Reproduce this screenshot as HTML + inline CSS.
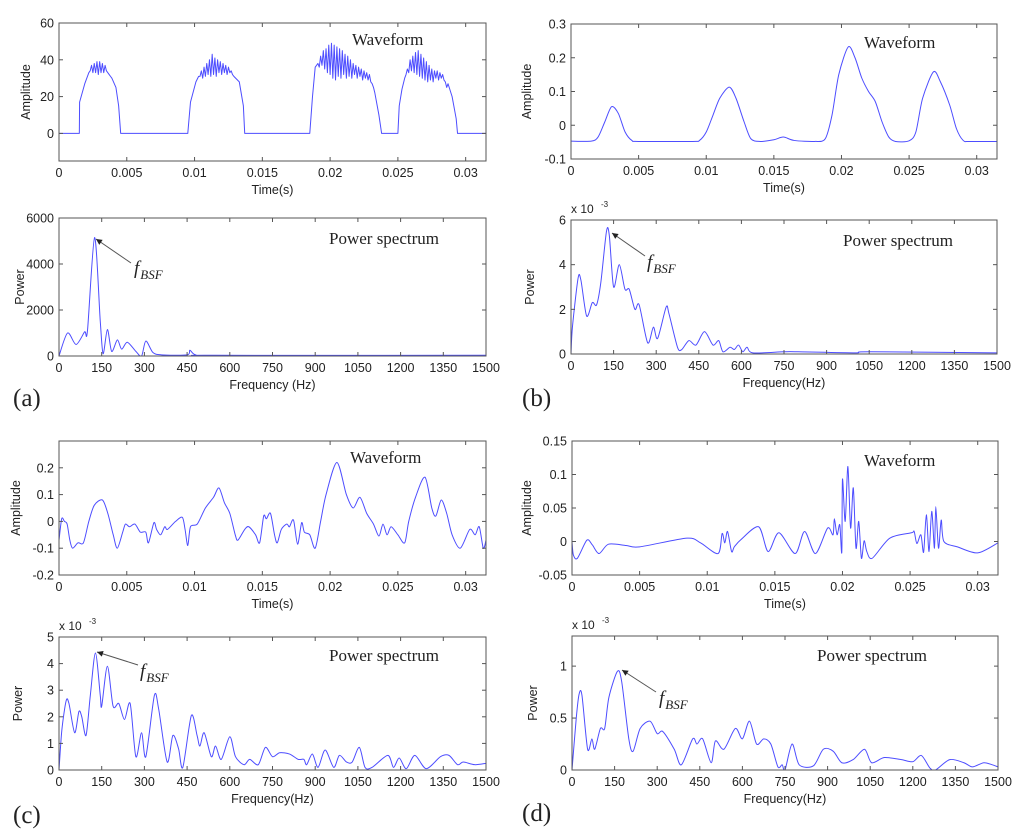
<!DOCTYPE html>
<html><head><meta charset="utf-8">
<style>
html,body{margin:0;padding:0;background:#fff;}
svg{display:block;}
text{font-family:"Liberation Sans",Arial,sans-serif;fill:#222;}
.serif{font-family:"Liberation Serif","Times New Roman",serif;}
</style></head>
<body>
<svg id="fig" width="1024" height="836" viewBox="0 0 1024 836" xmlns="http://www.w3.org/2000/svg"></svg>
<script>
// ---------- Panel (a) waveform ----------
const aWaveT = [0,0.0015,0.00152,0.0019,0.0022,0.0039,0.0042,0.0044,0.00455,0.0095,0.0097,0.0101,0.0103,0.0129,0.0133,0.0136,0.0137,0.0185,0.0187,0.0189,0.0233,0.0236,0.0238,0.025,0.0251,0.0253,0.0255,0.0287,0.029,0.0293,0.0294,0.0315];
const aWaveA = [0,0,17,27,33,30,25,15,0,0,17,28,31,31,28,15,0,0,20,36,22,10,0,0,15,24,30,27,20,8,0,0];
const aBurst1Start = 0.0023, aBurst1 = [34,37,33,38,33,39,32,39,33,38,33,37,34,33,32,31];
const aBurst2Start = 0.0104, aBurst2 = [31,34,30,36,31,38,32,40,31,43,32,41,31,40,33,39,32,38,33,37,32,36,33,34,32];
const aBurst3Start = 0.0190, aBurst3 = [37,38,36,42,37,45,35,46,33,48,32,49,30,48,29,47,31,46,30,45,32,43,30,42,31,40,30,38,32,37,30,36,31,35,29,34,30,33,29,32,28,27,25];
const aBurst4Start = 0.0256, aBurst4 = [32,35,33,40,34,42,33,44,32,45,31,43,30,41,29,39,28,37,29,35,28,34,30,34,29,33,30,32,29,28,25];
const burstStep = 0.0001;
// ---------- Panel (a) spectrum ----------
const aSpecF = [0,30,60,90,100,125,145,155,170,185,205,220,240,270,290,305,330,360,450,460,480,550,1500];
const aSpecP = [0,1000,500,1050,1100,5150,1500,100,1150,200,700,300,600,200,0,650,150,50,50,250,50,30,30];
// ---------- Panel (b) ----------
const bWaveT = [0,0.0015,0.002,0.0025,0.003,0.0035,0.004,0.0045,0.005,0.009,0.0095,0.01,0.0105,0.011,0.0117,0.0122,0.0128,0.0133,0.014,0.015,0.0157,0.0165,0.018,0.0188,0.0193,0.0198,0.0205,0.021,0.0215,0.022,0.0225,0.023,0.0235,0.024,0.025,0.0255,0.026,0.0268,0.0273,0.028,0.0285,0.029,0.0295,0.0315];
const bWaveA = [-0.047,-0.047,-0.035,0.01,0.055,0.035,-0.02,-0.045,-0.048,-0.048,-0.045,-0.02,0.03,0.08,0.113,0.08,0.01,-0.04,-0.048,-0.043,-0.035,-0.045,-0.048,-0.04,0.03,0.15,0.232,0.2,0.14,0.1,0.07,0.01,-0.035,-0.048,-0.046,-0.02,0.08,0.158,0.13,0.06,-0.01,-0.045,-0.048,-0.048];
const bSpecF = [0,5,25,35,55,75,90,105,125,135,150,170,190,205,225,240,270,290,305,335,345,375,390,415,440,470,500,520,535,560,575,590,605,620,640,750,800,1000,1050,1500];
const bSpecP = [0,1.2,3.4,3.3,1.7,2.3,2.2,3.2,5.5,5.3,3.0,4.0,2.9,2.9,2.0,2.2,0.5,1.2,0.7,2.1,1.8,0.3,0.2,0.6,0.4,1.0,0.4,0.6,0.1,0.3,0.2,0.4,0.1,0.3,0.05,0.1,0.1,0.05,0.1,0.05];
// ---------- Panel (c) ----------
const cWaveT = [0,0.0002,0.0004,0.0006,0.0008,0.001,0.0014,0.0018,0.0022,0.0026,0.0032,0.0036,0.004,0.0043,0.0047,0.0049,0.0052,0.0056,0.006,0.0064,0.0066,0.007,0.0072,0.0075,0.0078,0.008,0.0086,0.0091,0.0093,0.0095,0.0097,0.0102,0.0108,0.0114,0.0118,0.0122,0.0126,0.013,0.0132,0.0137,0.014,0.0145,0.0148,0.0151,0.0153,0.0156,0.0159,0.0161,0.0164,0.0168,0.017,0.0173,0.0176,0.0179,0.0181,0.0185,0.0189,0.0193,0.0197,0.0205,0.0212,0.0217,0.0222,0.0227,0.0232,0.0236,0.0239,0.0242,0.0245,0.025,0.0255,0.0258,0.0263,0.027,0.0275,0.0278,0.0282,0.0286,0.029,0.0296,0.0303,0.0307,0.031,0.0313,0.0315];
const cWaveA = [-0.07,0.01,0,-0.01,-0.07,-0.1,-0.08,-0.08,0,0.06,0.08,0.03,-0.05,-0.1,-0.04,-0.01,-0.02,-0.01,-0.04,-0.04,-0.08,-0.005,-0.03,-0.05,-0.02,-0.03,0,0.015,-0.03,-0.09,-0.02,-0.01,0.05,0.09,0.125,0.07,0.03,-0.05,-0.07,-0.03,-0.02,-0.05,-0.08,0.02,0.01,0.03,-0.05,-0.08,-0.03,-0.01,-0.02,0.005,-0.085,-0.005,-0.04,-0.05,-0.1,0,0.1,0.22,0.1,0.05,0.09,0.03,-0.01,-0.055,-0.01,-0.05,-0.02,-0.05,-0.08,0,0.09,0.165,0.05,0.02,0.08,0.03,-0.05,-0.1,-0.03,-0.05,-0.02,-0.1,-0.07];
const cSpecF = [0,10,25,35,55,70,80,95,110,128,145,150,170,190,210,230,250,270,290,305,335,350,380,400,420,435,465,485,495,510,535,550,570,600,620,650,670,700,725,750,775,810,840,860,870,890,910,935,965,985,1010,1030,1055,1075,1100,1155,1175,1195,1220,1250,1290,1340,1370,1400,1420,1460,1500];
const cSpecP = [0,1.5,2.6,2.5,1.4,2.2,2.0,1.3,2.8,4.4,2.8,2.4,3.9,2.4,2.5,1.9,2.5,0.5,1.4,0.5,2.8,2.3,0.3,1.3,0.8,0.1,2.05,1.3,0.9,1.4,0.5,0.9,0.4,1.25,0.5,0.2,0.4,0.2,0.85,0.5,0.65,0.6,0.4,0.4,0.2,0.6,0.1,0.75,0.1,0.55,0.3,0.3,0.85,0.1,0.1,0.55,0.1,0.45,0.05,0.55,0.05,0.5,0.55,0.2,0.3,0.2,0.25];
// ---------- Panel (d) ----------
const dWaveT = [0,0.0001,0.0004,0.0011,0.0015,0.002,0.0027,0.004,0.005,0.0085,0.0095,0.0108,0.0111,0.0113,0.0115,0.0118,0.012,0.0125,0.0138,0.0145,0.0153,0.0165,0.0172,0.018,0.0189,0.0193,0.0194,0.0196,0.0198,0.01995,0.02,0.0202,0.0204,0.0206,0.0208,0.021,0.0212,0.0214,0.0216,0.0218,0.0222,0.0235,0.0251,0.0253,0.0255,0.0258,0.026,0.0262,0.0264,0.0266,0.0268,0.0269,0.0271,0.0273,0.0275,0.0285,0.03,0.0315];
const dWaveA = [0,-0.02,-0.025,0.002,-0.005,-0.018,-0.004,-0.006,-0.008,0.005,-0.002,-0.018,0.012,-0.002,0.015,-0.015,-0.008,0.003,0.022,-0.015,0.013,-0.018,0.015,-0.018,0.02,0.01,0.034,0.01,0.025,-0.016,0.093,0.03,0.112,0.02,0.08,-0.01,0.03,-0.025,0.001,-0.015,-0.025,0.005,0.013,0.015,-0.003,0.01,-0.016,0.04,-0.015,0.045,-0.01,0.052,-0.01,0.032,0,-0.008,-0.017,-0.002];
const dSpecF = [0,15,25,35,55,70,80,100,115,130,160,175,200,215,240,275,300,320,360,385,425,440,460,490,505,535,575,600,625,650,675,700,725,740,750,775,800,850,885,920,950,990,1030,1055,1100,1160,1200,1230,1260,1280,1330,1380,1410,1450,1480,1500];
const dSpecP = [0,0.5,0.73,0.72,0.2,0.3,0.2,0.4,0.4,0.7,0.95,0.85,0.3,0.18,0.4,0.47,0.35,0.37,0.2,0.05,0.3,0.25,0.3,0.07,0.28,0.2,0.4,0.3,0.47,0.25,0.3,0.25,0.03,0.05,0.0,0.25,0.05,0.04,0.2,0.18,0.07,0.1,0.2,0.07,0.12,0.1,0.08,0.14,0.02,0.0,0.1,0.07,0.03,0.07,0.05,0.03];
// ---------- Ticks ----------
const timeTicks = [0,0.005,0.01,0.015,0.02,0.025,0.03];
const timeTickLabels = ["0","0.005","0.01","0.015","0.02","0.025","0.03"];
const freqTicks = [0,150,300,450,600,750,900,1050,1200,1350,1500];
const aWaveYTicks = [0,20,40,60];
const bWaveYTicks = [-0.1,0,0.1,0.2,0.3];
const cWaveYTicks = [-0.2,-0.1,0,0.1,0.2];
const dWaveYTicks = [-0.05,0,0.05,0.1,0.15];
const aSpecYTicks = [0,2000,4000,6000];
const bSpecYTicks = [0,2,4,6];
const cSpecYTicks = [0,1,2,3,4,5];
const dSpecYTicks = [0,0.5,1];

const NS = "http://www.w3.org/2000/svg";
const fig = document.getElementById('fig');
const defs = document.createElementNS(NS,'defs'); fig.appendChild(defs);
let clipN = 0;
function el(tag, attrs, parent, txt){
  const e = document.createElementNS(NS, tag);
  for (const k in attrs) e.setAttribute(k, attrs[k]);
  if (txt !== undefined) e.textContent = txt;
  (parent || fig).appendChild(e);
  return e;
}
function expandBursts(T, A, bursts){
  let pts = T.map((t,i)=>[t,A[i]]);
  bursts.forEach(b=>{ b.vals.forEach((v,i)=>pts.push([b.start+i*burstStep, v])); });
  pts.sort((p,q)=>p[0]-q[0]);
  return pts;
}
function smoothPath(pts){
  let d = "M"+pts[0][0].toFixed(2)+","+pts[0][1].toFixed(2);
  for (let i=0;i<pts.length-1;i++){
    const p0=pts[Math.max(0,i-1)], p1=pts[i], p2=pts[i+1], p3=pts[Math.min(pts.length-1,i+2)];
    const c1=[p1[0]+(p2[0]-p0[0])/7, p1[1]+(p2[1]-p0[1])/7];
    const c2=[p2[0]-(p3[0]-p1[0])/7, p2[1]-(p3[1]-p1[1])/7];
    d += " C"+c1[0].toFixed(2)+","+c1[1].toFixed(2)+" "+c2[0].toFixed(2)+","+c2[1].toFixed(2)+" "+p2[0].toFixed(2)+","+p2[1].toFixed(2);
  }
  return d;
}
function fmt(v){ return String(+v.toFixed(4)); }
function drawAxes(cfg){
  const g = el('g', {});
  
  
  const {L,R,T,B,xmin,xmax,ymin,ymax} = cfg;
  const sx = v => L + (v-xmin)/(xmax-xmin)*(R-L);
  const sy = v => B - (v-ymin)/(ymax-ymin)*(B-T);
  const cid = 'clip'+(clipN++);
  const cp = el('clipPath', {id:cid}, defs);
  el('rect', {x:L, y:T, width:R-L, height:B-T-0.5}, cp);
  const pts = cfg.pts.map(p=>[sx(p[0]), sy(p[1])]);
  const line = el('path', {d: cfg.smooth ? smoothPath(pts) : "M"+pts.map(p=>p[0].toFixed(2)+","+p[1].toFixed(2)).join(" L"), fill:'none', stroke:'#4d4dff', 'stroke-width':1, 'stroke-linejoin':'round', 'clip-path':'url(#'+cid+')'}, g);
  
  
  const box = el('rect', {x:L, y:T, width:R-L, height:B-T, fill:'none', stroke:'#555', 'stroke-width':1}, g);
  
  
  cfg.xticks.forEach((v,i)=>{
    const x = sx(v);
    el('line', {x1:x, x2:x, y1:B, y2:B-4, stroke:'#555'}, g);
    el('line', {x1:x, x2:x, y1:T, y2:T+4, stroke:'#555'}, g);
    const t = el('text', {x:x, y:B+16, 'font-size':12.5, 'text-anchor':'middle'}, g, cfg.xlabels ? cfg.xlabels[i] : fmt(v));
    
    
  });
  cfg.yticks.forEach(v=>{
    const y = sy(v);
    el('line', {x1:L, x2:L+4, y1:y, y2:y, stroke:'#555'}, g);
    el('line', {x1:R, x2:R-4, y1:y, y2:y, stroke:'#555'}, g);
    const t = el('text', {x:L-5, y:y+4.5, 'font-size':12.5, 'text-anchor':'end'}, g, fmt(v));
    
    
  });
  const xl = el('text', {x:(L+R)/2, y:B+33, 'font-size':12.5, 'text-anchor':'middle'}, g, cfg.xtitle);
  
  
  const yx = cfg.ytitleX, yy=(T+B)/2;
  const yl = el('text', {x:yx, y:yy, 'font-size':12.5, 'text-anchor':'middle', transform:'rotate(-90 '+yx+' '+yy+')'}, g, cfg.ytitle);
  
  
  const tt = el('text', {x:cfg.titleX, y:cfg.titleY, 'font-size':17, class:'serif'}, g, cfg.title);
  
  
  if (cfg.exp){
    const ex = el('text', {x:L, y:T-7, 'font-size':12}, g, 'x 10');
    
    
    el('text', {x:L+30, y:T-13, 'font-size':8}, g, '-3');
  }
  if (cfg.ann){
    const a = cfg.ann;
    const ag = el('g', {}, g);
    
    
    el('line', {x1:a.tx, y1:a.ty, x2:a.hx, y2:a.hy, stroke:'#555', 'stroke-width':1}, ag);
    const ang = Math.atan2(a.hy-a.ty, a.hx-a.tx);
    const s=6, w=3;
    const p1=[a.hx-s*Math.cos(ang)+w*Math.sin(ang), a.hy-s*Math.sin(ang)-w*Math.cos(ang)];
    const p2=[a.hx-s*Math.cos(ang)-w*Math.sin(ang), a.hy-s*Math.sin(ang)+w*Math.cos(ang)];
    el('polygon', {points: a.hx+','+a.hy+' '+p1.join(',')+' '+p2.join(','), fill:'#222'}, ag);
    const t = el('text', {x:a.lx, y:a.ly, 'font-size':19, class:'serif', 'font-style':'italic'}, ag, 'f');
    el('tspan', {dy:5, 'font-size':13, dx:1}, t, 'BSF');
  }
}
function panelLabel(txt, x, y){
  const t = el('text', {x:x, y:y, 'font-size':25, class:'serif'}, fig, txt);
  
  
}

const TMAX = 0.0315;
drawAxes({name:'a-waveform', L:59, R:486, T:23, B:161, xmin:0, xmax:TMAX, ymin:-15, ymax:60,
  pts: expandBursts(aWaveT, aWaveA, [{start:aBurst1Start, vals:aBurst1},{start:aBurst2Start, vals:aBurst2},{start:aBurst3Start, vals:aBurst3},{start:aBurst4Start, vals:aBurst4}]),
  smooth:false, xticks:timeTicks, xlabels:timeTickLabels, yticks:aWaveYTicks, xtitle:'Time(s)', ytitle:'Amplitude', ytitleX:30,
  title:'Waveform', titleX:352, titleY:45});
drawAxes({name:'a-power-spectrum', L:59, R:486, T:218, B:356, xmin:0, xmax:1500, ymin:0, ymax:6000,
  pts: aSpecF.map((f,i)=>[f,aSpecP[i]]), smooth:true, xticks:freqTicks, yticks:aSpecYTicks,
  xtitle:'Frequency (Hz)', ytitle:'Power', ytitleX:24, title:'Power spectrum', titleX:329, titleY:244,
  ann:{tx:131,ty:263,hx:96,hy:239,lx:134,ly:274}});
panelLabel('(a)', 13, 406);
drawAxes({name:'b-waveform', L:571, R:997, T:24, B:159, xmin:0, xmax:TMAX, ymin:-0.1, ymax:0.3,
  pts: bWaveT.map((t,i)=>[t,bWaveA[i]]), smooth:true, xticks:timeTicks, xlabels:timeTickLabels, yticks:bWaveYTicks,
  xtitle:'Time(s)', ytitle:'Amplitude', ytitleX:531, title:'Waveform', titleX:864, titleY:48});
drawAxes({name:'b-power-spectrum', L:571, R:997, T:220, B:354, xmin:0, xmax:1500, ymin:0, ymax:6,
  pts: bSpecF.map((f,i)=>[f,bSpecP[i]]), smooth:true, xticks:freqTicks, yticks:bSpecYTicks, exp:true,
  xtitle:'Frequency(Hz)', ytitle:'Power', ytitleX:534, title:'Power spectrum', titleX:843, titleY:246,
  ann:{tx:645,ty:256,hx:612,hy:233,lx:647,ly:268}});
panelLabel('(b)', 522, 406);
drawAxes({name:'c-waveform', L:59, R:486, T:441, B:575, xmin:0, xmax:TMAX, ymin:-0.2, ymax:0.3,
  pts: cWaveT.map((t,i)=>[t,cWaveA[i]]), smooth:true, xticks:timeTicks, xlabels:timeTickLabels, yticks:cWaveYTicks,
  xtitle:'Time(s)', ytitle:'Amplitude', ytitleX:20, title:'Waveform', titleX:350, titleY:463});
drawAxes({name:'c-power-spectrum', L:59, R:486, T:637, B:770, xmin:0, xmax:1500, ymin:0, ymax:5,
  pts: cSpecF.map((f,i)=>[f,cSpecP[i]]), smooth:true, xticks:freqTicks, yticks:cSpecYTicks, exp:true,
  xtitle:'Frequency(Hz)', ytitle:'Power', ytitleX:22, title:'Power spectrum', titleX:329, titleY:661,
  ann:{tx:138,ty:665,hx:97,hy:652,lx:140,ly:677}});
panelLabel('(c)', 13, 823);
drawAxes({name:'d-waveform', L:572, R:998, T:441, B:575, xmin:0, xmax:TMAX, ymin:-0.05, ymax:0.15,
  pts: dWaveT.map((t,i)=>[t,dWaveA[i]]), smooth:true, xticks:timeTicks, xlabels:timeTickLabels, yticks:dWaveYTicks,
  xtitle:'Time(s)', ytitle:'Amplitude', ytitleX:531, title:'Waveform', titleX:864, titleY:466});
drawAxes({name:'d-power-spectrum', L:572, R:998, T:636, B:770, xmin:0, xmax:1500, ymin:0, ymax:1.29,
  pts: dSpecF.map((f,i)=>[f,dSpecP[i]]), smooth:true, xticks:freqTicks, yticks:dSpecYTicks, exp:true,
  xtitle:'Frequency(Hz)', ytitle:'Power', ytitleX:537, title:'Power spectrum', titleX:817, titleY:661,
  ann:{tx:656,ty:692,hx:622,hy:670,lx:659,ly:704}});
panelLabel('(d)', 522, 821);
</script>
</body></html>
